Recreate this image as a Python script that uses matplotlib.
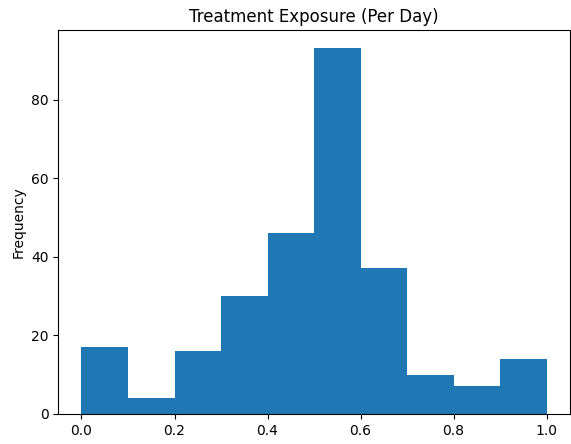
import matplotlib
matplotlib.use('Agg')
import matplotlib.pyplot as plt
import numpy as np

# histogram of treatment exposure, 10 equal bins on [0, 1]
bin_edges = np.linspace(0.0, 1.0, 11)
counts = [17, 4, 16, 30, 46, 93, 37, 10, 7, 14]

fig, ax = plt.subplots(figsize=(5.71, 4.44), dpi=100)
ax.hist(bin_edges[:-1], bins=bin_edges, weights=counts, color='#1f77b4')
ax.set_title('Treatment Exposure (Per Day)')
ax.set_ylabel('Frequency')
plt.subplots_adjust(left=0.102, right=0.998, top=0.932, bottom=0.068)
plt.savefig('out.png', dpi=100)
